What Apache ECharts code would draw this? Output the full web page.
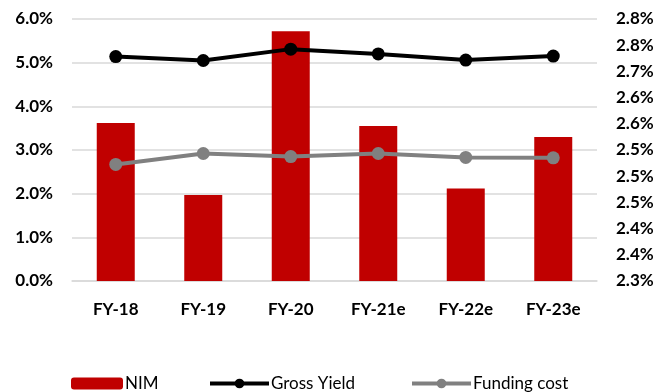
<!DOCTYPE html>
<html><head><meta charset="utf-8">
<script src="https://cdn.jsdelivr.net/npm/echarts@6/dist/echarts.min.js"></script>
<style>html,body{margin:0;padding:0;background:#fff}#c{width:660px;height:392px}</style>
</head><body><div id="c"></div>
<script>
const categories = ['FY-18','FY-19','FY-20','FY-21e','FY-22e','FY-23e'];
const nim = [3.62, 1.97, 5.72, 3.55, 2.12, 3.30];
const grossYield = [5.14, 5.05, 5.31, 5.20, 5.06, 5.15];
const fundingCost = [2.67, 2.92, 2.85, 2.92, 2.83, 2.82];
const leftTicks = {min: 0, max: 6, interval: 1};
const rightTicks = {min: 2.3, max: 2.8, interval: 0.05};

const FONT = 'Lato';
const chart = echarts.init(document.getElementById('c'), null, {renderer: 'canvas'});
const legendText = {fontFamily: FONT, fontSize: 17, color: '#000', padding: [0, 0, 0, -3]};
const axisText = {fontFamily: FONT, fontWeight: 'bold', fontSize: 17, color: '#000', margin: 19};
chart.setOption({
  animation: false,
  grid: {left: 72, right: 63, top: 19, bottom: 111},
  legend: [
    {data: ['NIM'], left: 66, top: 370, itemWidth: 52, itemHeight: 12, textStyle: legendText},
    {data: ['Gross Yield'], left: 203, top: 370, itemWidth: 59, itemHeight: 12, textStyle: legendText,
     lineStyle: {width: 4}},
    {data: ['Funding cost'], left: 405, top: 370, itemWidth: 59, itemHeight: 12, textStyle: legendText,
     lineStyle: {width: 4}}
  ],
  xAxis: {
    type: 'category', data: categories,
    axisLine: {lineStyle: {color: '#d9d9d9', width: 1.5}},
    axisTick: {show: false},
    axisLabel: Object.assign({}, axisText, {margin: 20})
  },
  yAxis: [
    {type: 'value', min: leftTicks.min, max: leftTicks.max, interval: leftTicks.interval,
     axisLine: {show: false}, axisTick: {show: false},
     splitLine: {lineStyle: {color: '#d9d9d9', width: 1.5}},
     axisLabel: Object.assign({}, axisText, {formatter: v => v.toFixed(1) + '%'})},
    {type: 'value', min: rightTicks.min, max: rightTicks.max, interval: rightTicks.interval,
     axisLine: {show: false}, axisTick: {show: false}, splitLine: {show: false},
     axisLabel: Object.assign({}, axisText, {formatter: v => v.toFixed(1) + '%'})}
  ],
  series: [
    {name: 'NIM', type: 'bar', data: nim, barWidth: 38, itemStyle: {color: '#C00000'}},
    {name: 'Gross Yield', type: 'line', data: grossYield, symbol: 'circle', symbolSize: 13,
     lineStyle: {color: '#000', width: 4}, itemStyle: {color: '#000'}},
    {name: 'Funding cost', type: 'line', data: fundingCost, symbol: 'circle', symbolSize: 13,
     lineStyle: {color: '#808080', width: 4}, itemStyle: {color: '#808080'}}
  ]
});
</script></body></html>
